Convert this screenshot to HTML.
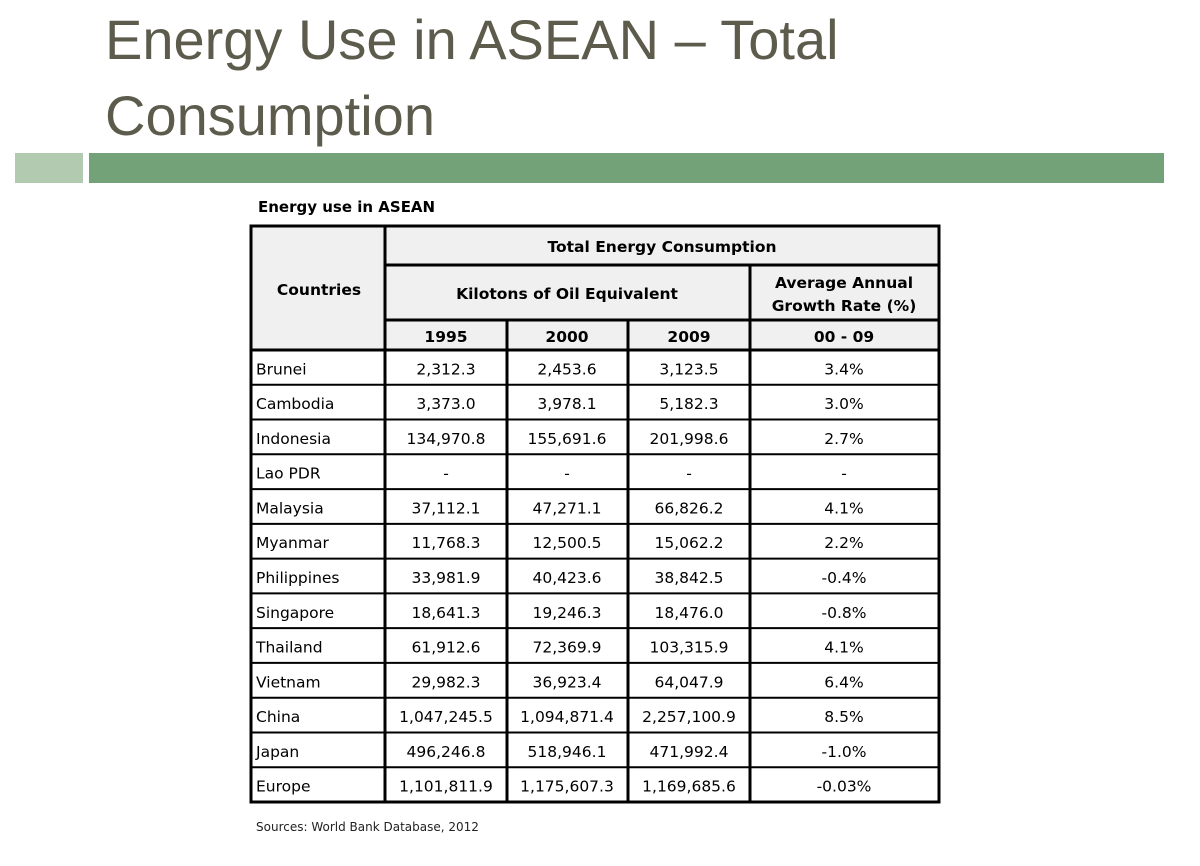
<!DOCTYPE html>
<html><head><meta charset="utf-8"><style>
body{margin:0;width:1200px;height:866px;background:#fff;overflow:hidden;position:relative;font-family:"Liberation Sans",sans-serif}
.t{position:absolute;left:105px;color:#5c5b4c;font-size:56px;line-height:1}
</style></head><body>
<div class="t" style="top:12px">Energy Use in ASEAN – Total</div>
<div class="t" style="top:88px">Consumption</div>
<div style="position:absolute;left:15px;top:153px;width:68px;height:30px;background:#b2cbb0"></div>
<div style="position:absolute;left:89px;top:153px;width:1075px;height:30px;background:#74a278"></div>
<svg width="1200" height="866" style="position:absolute;left:0;top:0" font-family="DejaVu Sans, sans-serif" font-size="15.5">
<text x="258" y="212" font-weight="bold" font-size="15">Energy use in ASEAN</text>
<rect x="251" y="226" width="688" height="124" fill="#f0f0f0"/>
<g stroke="#000" stroke-width="3" fill="none">
<rect x="251" y="226" width="688" height="576"/>
<line x1="385" y1="226" x2="385" y2="802"/>
<line x1="385" y1="265" x2="939" y2="265"/>
<line x1="385" y1="320" x2="939" y2="320"/>
<line x1="750" y1="265" x2="750" y2="802"/>
<line x1="507" y1="320" x2="507" y2="802"/>
<line x1="628" y1="320" x2="628" y2="802"/>
<line x1="251" y1="350" x2="939" y2="350"/>
</g>
<g stroke="#000" stroke-width="2" id="rl"></g>
<g font-weight="bold" text-anchor="middle">
<text x="319" y="295">Countries</text>
<text x="662" y="252">Total Energy Consumption</text>
<text x="567" y="299">Kilotons of Oil Equivalent</text>
<text x="844" y="288">Average Annual</text>
<text x="844" y="311">Growth Rate (%)</text>
<text x="446" y="342">1995</text>
<text x="567" y="342">2000</text>
<text x="689" y="342">2009</text>
<text x="844" y="342">00 - 09</text>
</g>
<g id="body"></g>
</svg>
<script>
var d=[["Brunei","2,312.3","2,453.6","3,123.5","3.4%"],["Cambodia","3,373.0","3,978.1","5,182.3","3.0%"],["Indonesia","134,970.8","155,691.6","201,998.6","2.7%"],["Lao PDR","-","-","-","-"],["Malaysia","37,112.1","47,271.1","66,826.2","4.1%"],["Myanmar","11,768.3","12,500.5","15,062.2","2.2%"],["Philippines","33,981.9","40,423.6","38,842.5","-0.4%"],["Singapore","18,641.3","19,246.3","18,476.0","-0.8%"],["Thailand","61,912.6","72,369.9","103,315.9","4.1%"],["Vietnam","29,982.3","36,923.4","64,047.9","6.4%"],["China","1,047,245.5","1,094,871.4","2,257,100.9","8.5%"],["Japan","496,246.8","518,946.1","471,992.4","-1.0%"],["Europe","1,101,811.9","1,175,607.3","1,169,685.6","-0.03%"]];
var ns="http://www.w3.org/2000/svg",b=document.getElementById("body"),rl=document.getElementById("rl");
var h=(802-350)/13,xs=[446,567,689,844];
d.forEach(function(r,i){var y=350+h*i;
 if(i>0){var l=document.createElementNS(ns,"line");l.setAttribute("x1",251);l.setAttribute("x2",939);l.setAttribute("y1",y);l.setAttribute("y2",y);rl.appendChild(l);}
 var ty=y+h/2+7;
 var t=document.createElementNS(ns,"text");t.setAttribute("x",256);t.setAttribute("y",ty);t.textContent=r[0];b.appendChild(t);
 for(var j=1;j<5;j++){t=document.createElementNS(ns,"text");t.setAttribute("x",xs[j-1]);t.setAttribute("y",ty);t.setAttribute("text-anchor","middle");t.textContent=r[j];b.appendChild(t);}
});
</script>
<div style="position:absolute;left:256px;top:820px;font-family:'DejaVu Sans',sans-serif;font-size:12px;color:#222">Sources: World Bank Database, 2012</div>
</body></html>
